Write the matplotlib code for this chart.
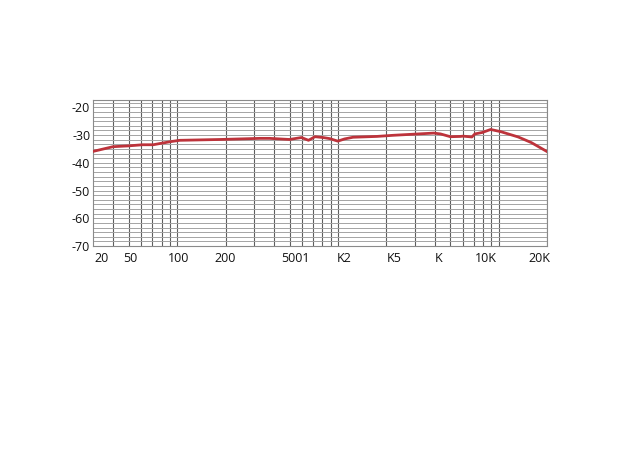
import numpy as np
import matplotlib
matplotlib.use("Agg")
import matplotlib.pyplot as plt

# Frequency response data (Hz, dB)
freq = [30, 40, 50, 61, 71, 81, 93, 104, 186, 327, 376, 500, 593, 656, 720, 808,
        890, 998, 1100, 1240, 1745, 2200, 2950, 3940, 4340, 5000, 5780, 6000, 6800,
        7100, 7870, 8900, 10300, 13200, 15900, 20000]
level = [-35.9, -34.2, -33.9, -33.5, -33.5, -32.9, -32.3, -31.9, -31.6, -31.2, -31.2,
         -31.6, -30.9, -31.9, -30.6, -30.9, -31.3, -32.2, -31.4, -30.8, -30.5, -30.1,
         -29.7, -29.3, -29.6, -30.6, -30.5, -30.4, -30.7, -29.6, -29.1, -28.0, -28.8,
         -30.7, -32.7, -36.0]

# Tick labels (as printed on the original chart)
xtick_pos = [34, 51.5, 102, 200, 546, 1096, 2237, 4200, 8300, 17800]
xtick_labels = ["20", "50", "100", "200", "5001", "K2", "K5", "K", "10K", "20K"]
ytick_pos = [-20, -30, -40, -50, -60, -70]
ytick_labels = ["-20", "-30", "-40", "-50", "-60", "-70"]

# vertical grid frequencies
vgrid = [40, 50, 60, 70, 80, 90, 100, 200, 300, 400, 500, 600, 700, 800, 900, 1000,
         2000, 3000, 4000, 5000, 6000, 7000, 8000, 9000, 10000, 20000]

fig = plt.figure(figsize=(6.24, 4.54), dpi=100)
ax = fig.add_axes([0.149, 0.458, 0.728, 0.321])
ax.set_xscale("log")
ax.set_xlim(30, 20000)
ax.set_ylim(-70, -17.5)

for f in vgrid:
    ax.axvline(f, color="#5e5e5e", lw=0.8, zorder=1)
for y in np.arange(-70, -17.5, 10 / 6):
    ax.axhline(y, color="#a4a4a4", lw=0.7, zorder=1)

ax.plot(freq, level, color="#bd333b", lw=2.0, zorder=3)

ax.set_xticks(xtick_pos)
ax.set_xticklabels(xtick_labels)
ax.set_xticks([], minor=True)
ax.set_yticks(ytick_pos)
ax.set_yticklabels(ytick_labels)
ax.tick_params(axis="both", length=0, labelsize=9, colors="#111111")
ax.tick_params(axis="x", pad=4)
ax.tick_params(axis="y", pad=2)
for lab in ax.get_xticklabels() + ax.get_yticklabels():
    lab.set_fontfamily("Open Sans")
for s in ax.spines.values():
    s.set_color("#8a8a8a")
    s.set_linewidth(0.8)

fig.savefig("out.png", dpi=100)
